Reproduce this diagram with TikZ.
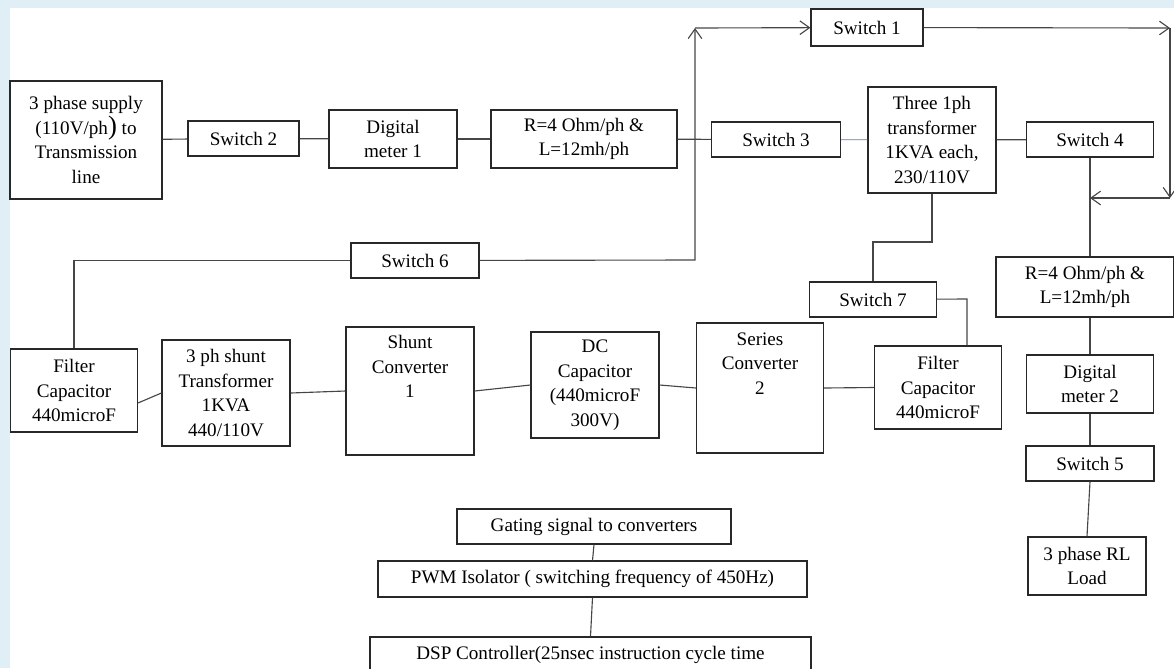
\documentclass[tikz,border=0pt]{standalone}
\usepackage{fontspec}
\setmainfont{Liberation Serif}
\usepackage{tikz}
\usetikzlibrary{arrows, arrows.meta, calc, positioning}
\definecolor{boxline}{RGB}{40,40,40}
\definecolor{wire}{RGB}{70,70,70}
\definecolor{bluewire}{RGB}{70,130,200}
\definecolor{bgblue}{RGB}{224,238,246}
\tikzstyle{block} = [rectangle, draw=boxline, line width=0.8pt, align=center, inner sep=1pt,
font=\fontsize{13.6}{17.5}\selectfont]
\tikzstyle{line} = [draw=wire, line width=0.8pt]
\tikzstyle{arrow} = [line, ->, >={Straight Barb[length=2.4mm,width=3.4mm]}]

\begin{document}
\begin{tikzpicture}[x=0.25mm, y=-0.25mm]
      \useasboundingbox (0,0) rectangle (1174,668);
      \clip (0,0) rectangle (1174,668);
      \fill [bgblue] (0,0) rectangle (10,668);
      \fill [bgblue] (0,0) rectangle (1174,8);

      \node (sup) [block, minimum width=38mm, minimum height=29.5mm] at (86,140) {3 phase supply \\ (110V/ph{\fontsize{19}{17.5}\selectfont)} to \\ Transmission \\ line};
      \node (sw2) [block, minimum width=27.75mm, minimum height=8.75mm] at (243.5,138.5) {Switch 2};
      \node (dm1) [block, minimum width=32mm, minimum height=14.5mm] at (393,139) {Digital \\ meter 1};
      \node (rl1) [block, minimum width=46.5mm, minimum height=14.5mm] at (584,139) {R=4 Ohm/ph \& \\ L=12mh/ph};
      \node (sw3) [block, minimum width=32.25mm, minimum height=8.75mm] at (776,139.5) {Switch 3};
      \node (trf) [block, minimum width=32mm, minimum height=26.5mm] at (932,140) {Three 1ph \\ transformer \\ 1KVA each, \\ 230/110V};
      \node (sw4) [block, minimum width=31.75mm, minimum height=8.75mm] at (1090,139.5) {Switch 4};
      \node (sw1) [block, minimum width=28mm, minimum height=9.25mm] at (867,27.5) {Switch 1};
      \node (sw6) [block, minimum width=32mm, minimum height=8.75mm] at (415,260.5) {Switch 6};

      \node (fc1) [block, minimum width=31.75mm, minimum height=20.75mm] at (74,390.5) {Filter \\ Capacitor \\ 440microF};
      \node (shtr) [block, minimum width=32mm, minimum height=26.5mm] at (226,393) {3 ph shunt \\ Transformer \\ 1KVA \\ 440/110V};
      \node (shc) [block, minimum width=32mm, minimum height=32mm] at (410,391) {Shunt \\ Converter \\ 1 \\ ~ \\ ~};
      \node (dcc) [block, minimum width=32mm, minimum height=26.5mm] at (595,385) {DC \\ Capacitor \\ (440microF \\ 300V)};
      \node (sec) [block, minimum width=31.75mm, minimum height=32.5mm] at (760,388) {Series \\ Converter \\ 2 \\ ~ \\ ~};
      \node (sw7) [block, minimum width=31.75mm, minimum height=8.75mm] at (873,299.5) {Switch 7};
      \node (fc2) [block, minimum width=31.75mm, minimum height=20.75mm] at (938,387.5) {Filter \\ Capacitor \\ 440microF};

      \node (rl2) [block, minimum width=44.5mm, minimum height=15mm] at (1085,287) {R=4 Ohm/ph \& \\ L=12mh/ph};
      \node (dm2) [block, minimum width=31.75mm, minimum height=14.5mm] at (1090,384) {Digital \\ meter 2};
      \node (sw5) [block, minimum width=32mm, minimum height=8.75mm] at (1090,463.5) {Switch 5};
      \node (load) [block, minimum width=29.5mm, minimum height=14.5mm] at (1087,566) {3 phase RL \\ Load};

      \node (gat) [block, minimum width=68.5mm, minimum height=8.75mm] at (594,526.5) {Gating signal to converters};
      \node (pwm) [block, minimum width=107.25mm, minimum height=9mm] at (592.5,579) {PWM Isolator ( switching frequency of 450Hz)};
      \node (dsp) [block, minimum width=110.25mm, minimum height=9mm] at (590.5,655) {DSP Controller(25nsec instruction cycle time};

      \coordinate (j1) at (695,260);
      \coordinate (j2) at (695,28);
      \coordinate (j3) at (1170,28);
      \coordinate (j4) at (1170,198);
      \coordinate (j5) at (1090,198);
      \coordinate (j7) at (873,242);
      \coordinate (j8) at (967,299);

      \draw [line] (sup) -- (sw2);
      \draw [line] (sw2) -- (dm1);
      \draw [line] (dm1) -- (rl1);
      \draw [line] (rl1) -- (sw3);
      \draw [line, draw=bluewire, line width=0.6pt] (sw3) -- (trf);
      \draw [line] (trf) -- (sw4);
      \draw [arrow] (sw6) -- (j1) -- (j2);
      \draw [arrow] (j2) -- (sw1);
      \draw [arrow] (sw1) -- (j3);
      \draw [arrow] (j3) -- (j4);
      \draw [arrow] (j4) -- (j5);
      \draw [line] (sw4.south) -- (sw4.south |- rl2.north);
      \draw [line] (trf.south) |- (j7) -- (sw7.north);
      \draw [line] (sw7) -- (j8) -- (j8 |- fc2.north);
      \draw [line] (fc1.north) |- (sw6.west);
      \draw [line] (fc1.-11) -- (shtr.west);
      \draw [line] (shtr.east) -- (shc.west);
      \draw [line] (shc.east) -- (dcc.west);
      \draw [line] (dcc.east) -- (sec.west);
      \draw [line] (sec.east) -- (fc2.west);
      \draw [line] (dm2.north |- rl2.south) -- (dm2.north);
      \draw [line] (dm2) -- (sw5);
      \draw [line] (sw5.south) -- (load.north);
      \draw [line] (gat.south) -- (pwm.north);
      \draw [line] (pwm.south) -- (dsp.north);
    \end{tikzpicture}
\end{document}
